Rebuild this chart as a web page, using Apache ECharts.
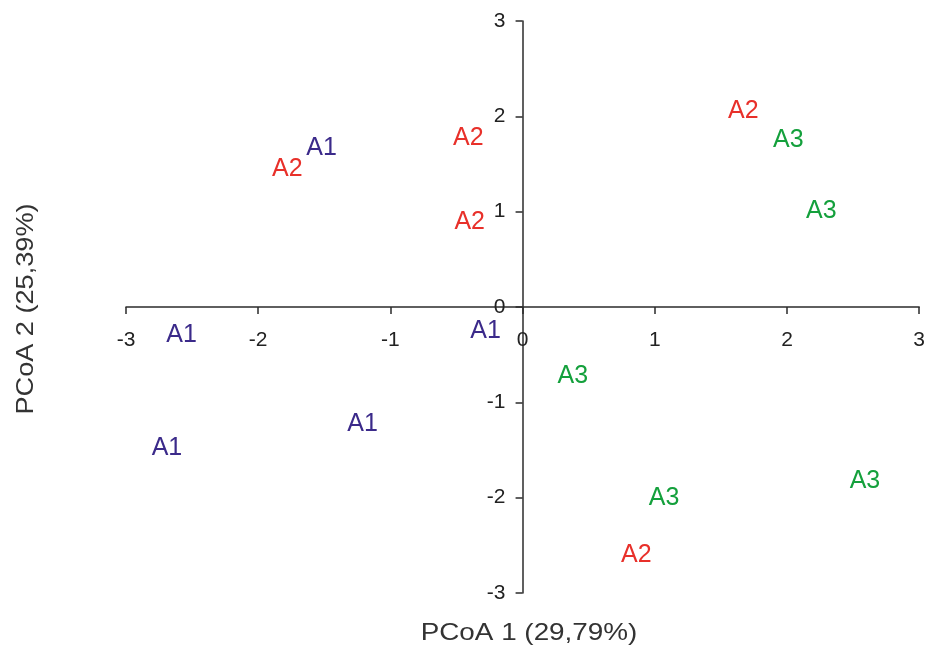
<!DOCTYPE html>
<html>
<head>
<meta charset="utf-8">
<script src="https://cdn.jsdelivr.net/npm/echarts@6/dist/echarts.min.js"></script>
<style>html,body{margin:0;padding:0;background:#fff}#c{width:928px;height:648px}</style>
</head>
<body>
<div id="c"></div>
<script>
const xTitle = 'PCoA 1 (29,79%)';
const yTitle = 'PCoA 2 (25,39%)';
const groups = ['A1', 'A2', 'A3'];
const groupColors = ['#3b2a8a', '#e8302a', '#14a03c'];
const A1 = [[-1.52, 1.67], [-2.58, -0.30], [-0.28, -0.25], [-1.21, -1.23], [-2.69, -1.48]];
const A2 = [[-1.78, 1.45], [-0.41, 1.77], [-0.40, 0.89], [1.67, 2.05], [0.86, -2.60]];
const A3 = [[2.01, 1.75], [2.26, 1.01], [0.38, -0.72], [1.07, -2.00], [2.59, -1.83]];
const groupData = [A1, A2, A3];

const font = "'Liberation Sans', Arial, sans-serif";
const axisColor = '#2b2b2b';
const gridLeft = 126, gridRight = 7, gridTop = 21, gridBottom = 55;
const W = 928, H = 648;
// pixel position of the zero lines (labels are kept at grid edges, so shift them by margin)
const zeroX = gridLeft + (W - gridLeft - gridRight) / 2;
const zeroY = gridTop + (H - gridTop - gridBottom) / 2;

const chart = echarts.init(document.getElementById('c'));
chart.setOption({
  backgroundColor: '#fff',
  animation: false,
  grid: { left: gridLeft, right: gridRight, top: gridTop, bottom: gridBottom },
  xAxis: {
    type: 'value', min: -3, max: 3, interval: 1,
    splitLine: { show: false },
    axisLine: { onZero: true, lineStyle: { color: axisColor, width: 1.5 } },
    axisTick: { show: true, length: 7, lineStyle: { color: axisColor, width: 1.5 } },
    axisLabel: { color: '#222', fontSize: 21, fontFamily: font, margin: 23 - ((H - gridBottom) - zeroY) }
  },
  yAxis: {
    type: 'value', min: -3, max: 3, interval: 1,
    splitLine: { show: false },
    axisLine: { onZero: true, lineStyle: { color: axisColor, width: 1.5 } },
    axisTick: { show: true, length: 7, lineStyle: { color: axisColor, width: 1.5 } },
    axisLabel: { color: '#222', fontSize: 21, fontFamily: font, margin: 18 - (zeroX - gridLeft) }
  },
  graphic: [
    { type: 'text', x: 529, y: 633, z: 10, scaleX: 1.16,
      style: { text: xTitle, fill: '#333', font: '24px ' + font, align: 'center', verticalAlign: 'middle' } },
    { type: 'text', x: 26, y: 309, rotation: Math.PI / 2, scaleX: 1.13, z: 10,
      style: { text: yTitle, fill: '#333', font: '24px ' + font, align: 'center', verticalAlign: 'middle' } }
  ],
  series: groups.map((g, i) => ({
    name: g,
    type: 'scatter',
    symbolSize: 1,
    itemStyle: { color: 'rgba(0,0,0,0)', opacity: 1 },
    emphasis: { disabled: true },
    label: {
      show: true, position: 'inside', formatter: g, opacity: 1,
      color: groupColors[i], fontSize: 25, fontFamily: font
    },
    data: groupData[i]
  }))
});
</script>
</body>
</html>
